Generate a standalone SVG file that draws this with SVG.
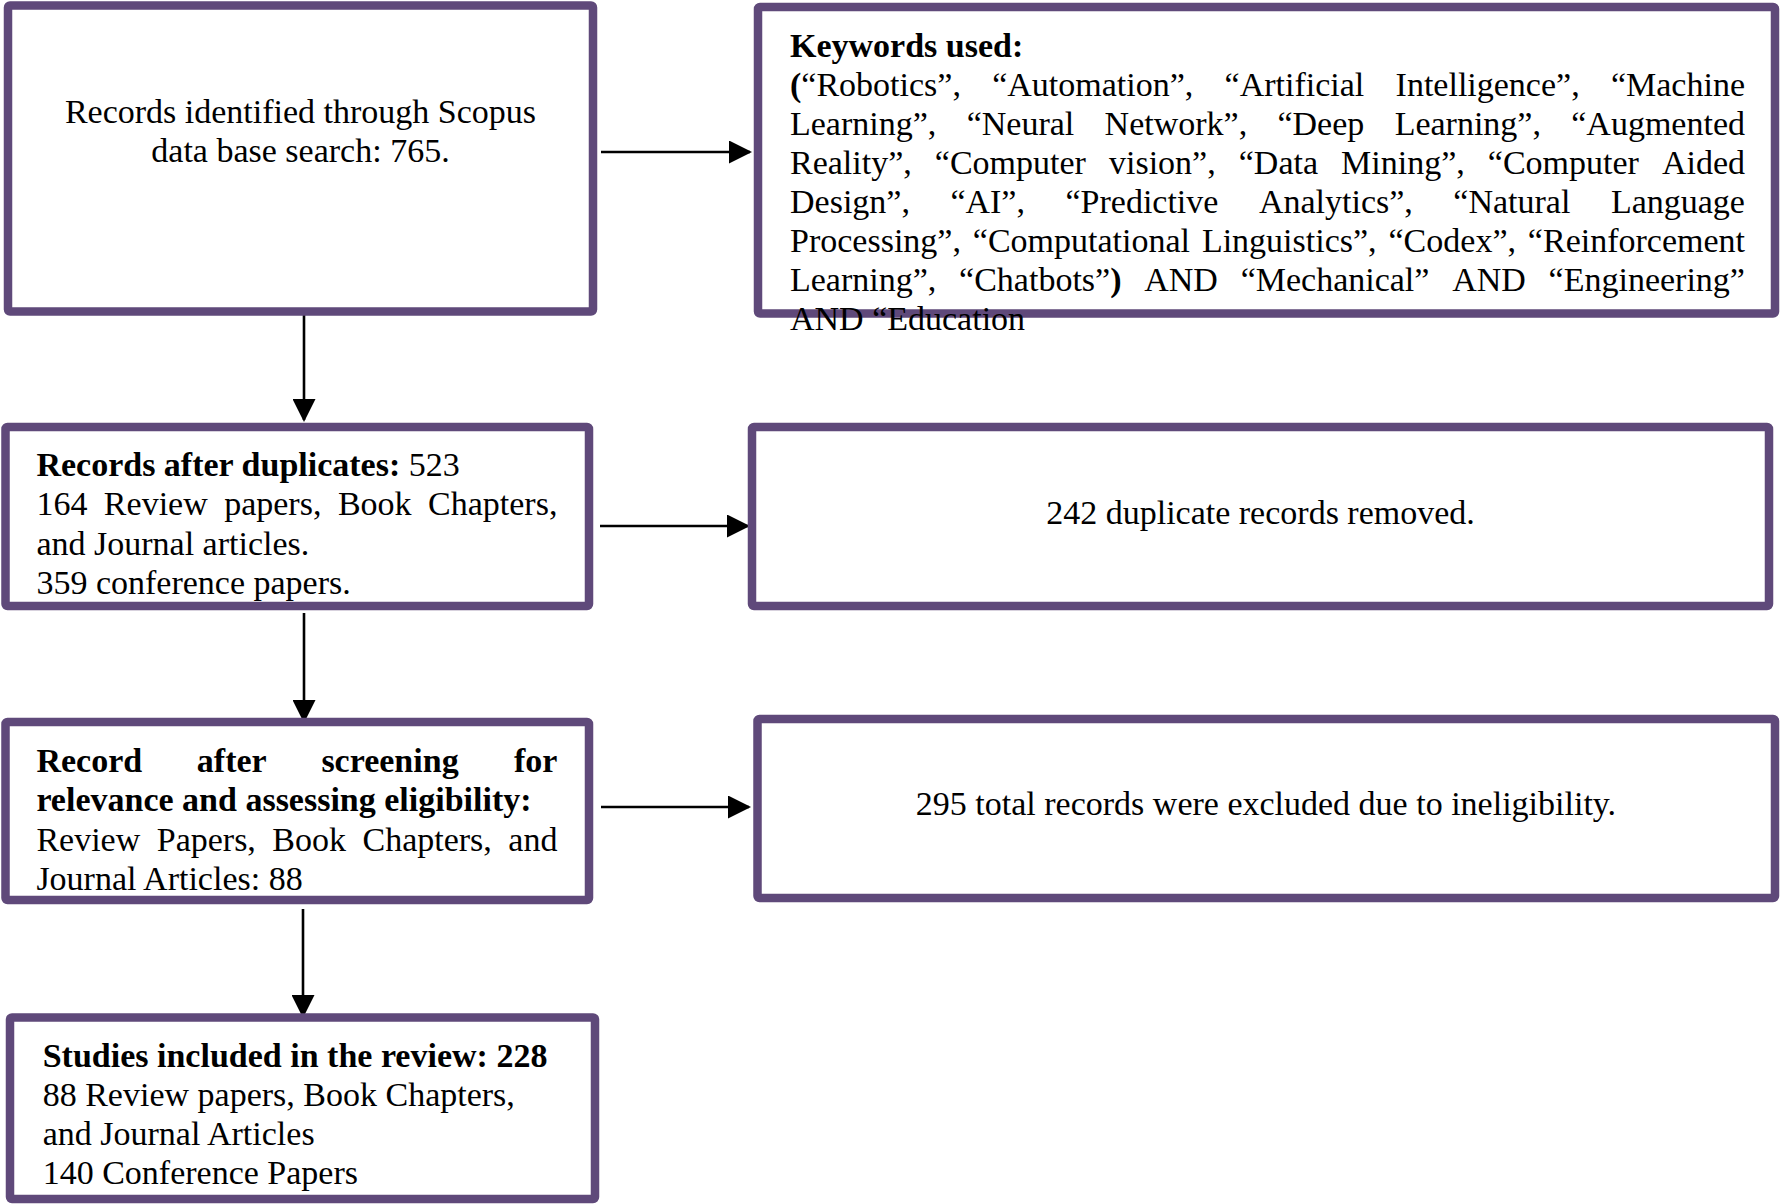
<svg xmlns="http://www.w3.org/2000/svg" width="1783" height="1204" viewBox="0 0 1783 1204">
<style>
.box{fill:#ffffff;stroke:#5F497A;stroke-width:8.5;stroke-linejoin:round}
.t{font-family:"Liberation Serif","Times New Roman",serif;font-size:34px;fill:#000000}
.b{font-weight:bold}
.c{text-anchor:middle}
.conn{stroke:#000000;stroke-width:2.6;fill:none}
</style>
<defs>
<marker id="ah" markerUnits="userSpaceOnUse" markerWidth="23" markerHeight="23" refX="21" refY="11.5" orient="auto">
<path d="M0,0 L23,11.5 L0,23 z" fill="#000000"/>
</marker>
</defs>
<rect width="1783" height="1204" fill="#ffffff"/>

<g id="connectors">
<line class="conn" x1="601" y1="152" x2="750" y2="152" marker-end="url(#ah)"/>
<line class="conn" x1="600" y1="526" x2="748" y2="526" marker-end="url(#ah)"/>
<line class="conn" x1="601" y1="807" x2="749" y2="807" marker-end="url(#ah)"/>
<line class="conn" x1="304" y1="312" x2="304" y2="420" marker-end="url(#ah)"/>
<line class="conn" x1="304" y1="613" x2="304" y2="721" marker-end="url(#ah)"/>
<line class="conn" x1="303" y1="909" x2="303" y2="1016" marker-end="url(#ah)"/>
</g>

<g id="node-identified">
<rect class="box" x="8" y="5.5" width="585" height="306" rx="2"/>
<text class="t c" x="300.5" y="123">Records identified through Scopus</text>
<text class="t c" x="300.5" y="162">data base search: 765.</text>
</g>

<g id="node-keywords">
<rect class="box" x="758" y="7" width="1017" height="306.5" rx="2"/>
<text class="t b" x="790" y="57">Keywords used:</text>
<text class="t" y="96"><tspan x="790"><tspan class="b">(</tspan>“Robotics”,</tspan><tspan x="992.18">“Automation”,</tspan><tspan x="1224.58">“Artificial</tspan><tspan x="1395.58">Intelligence”,</tspan><tspan x="1610.95">“Machine</tspan></text>
<text class="t" y="135"><tspan x="790">Learning”,</tspan><tspan x="966.66">“Neural</tspan><tspan x="1104.59">Network”,</tspan><tspan x="1277.47">“Deep</tspan><tspan x="1394.63">Learning”,</tspan><tspan x="1571.29">“Augmented</tspan></text>
<text class="t" y="174"><tspan x="790">Reality”,</tspan><tspan x="934.85">“Computer</tspan><tspan x="1108.98">vision”,</tspan><tspan x="1238.74">“Data</tspan><tspan x="1341.06">Mining”,</tspan><tspan x="1487.82">“Computer</tspan><tspan x="1661.95">Aided</tspan></text>
<text class="t" y="213"><tspan x="790">Design”,</tspan><tspan x="950.42">“AI”,</tspan><tspan x="1065.48">“Predictive</tspan><tspan x="1258.95">Analytics”,</tspan><tspan x="1453.37">“Natural</tspan><tspan x="1610.93">Language</tspan></text>
<text class="t" y="252"><tspan x="790">Processing”,</tspan><tspan x="972.8">“Computational</tspan><tspan x="1201.91">Linguistics”,</tspan><tspan x="1388.52">“Codex”,</tspan><tspan x="1527.87">“Reinforcement</tspan></text>
<text class="t" y="291"><tspan x="790">Learning”,</tspan><tspan x="959.09">“Chatbots”<tspan class="b">)</tspan></tspan><tspan x="1144.26">AND</tspan><tspan x="1240.65">“Mechanical”</tspan><tspan x="1452.2">AND</tspan><tspan x="1548.59">“Engineering”</tspan></text>
<text class="t" x="790" y="330">AND “Education</text>
</g>

<g id="node-after-duplicates">
<rect class="box" x="5.5" y="427" width="583.5" height="179" rx="2"/>
<text class="t" x="36.4" y="476"><tspan class="b">Records after duplicates:</tspan> 523</text>
<text class="t" y="515"><tspan x="36.4">164</tspan><tspan x="103.86">Review</tspan><tspan x="224.19">papers,</tspan><tspan x="337.89">Book</tspan><tspan x="428.03">Chapters,</tspan></text>
<text class="t" x="36.4" y="555">and Journal articles.</text>
<text class="t" x="36.4" y="594">359 conference papers.</text>
</g>

<g id="node-duplicates-removed">
<rect class="box" x="752" y="427" width="1017" height="179" rx="2"/>
<text class="t c" x="1260.5" y="524">242 duplicate records removed.</text>
</g>

<g id="node-screening">
<rect class="box" x="5.5" y="722" width="583.5" height="178" rx="2"/>
<text class="t b" y="772"><tspan x="36.4">Record</tspan><tspan x="196.85">after</tspan><tspan x="321.4">screening</tspan><tspan x="513.98">for</tspan></text>
<text class="t b" x="36.4" y="811">relevance and assessing eligibility:</text>
<text class="t" y="851"><tspan x="36.4">Review</tspan><tspan x="156.73">Papers,</tspan><tspan x="272.33">Book</tspan><tspan x="362.47">Chapters,</tspan><tspan x="508.3">and</tspan></text>
<text class="t" x="36.4" y="890">Journal Articles: 88</text>
</g>

<g id="node-excluded">
<rect class="box" x="757.5" y="719" width="1017.5" height="179" rx="2"/>
<text class="t c" x="1266" y="815">295 total records were excluded due to ineligibility.</text>
</g>

<g id="node-included">
<rect class="box" x="10" y="1017.5" width="585" height="181.5" rx="2"/>
<text class="t b" x="42.7" y="1067">Studies included in the review: 228</text>
<text class="t" x="42.7" y="1106">88 Review papers, Book Chapters,</text>
<text class="t" x="42.7" y="1145">and Journal Articles</text>
<text class="t" x="42.7" y="1184">140 Conference Papers</text>
</g>
</svg>
